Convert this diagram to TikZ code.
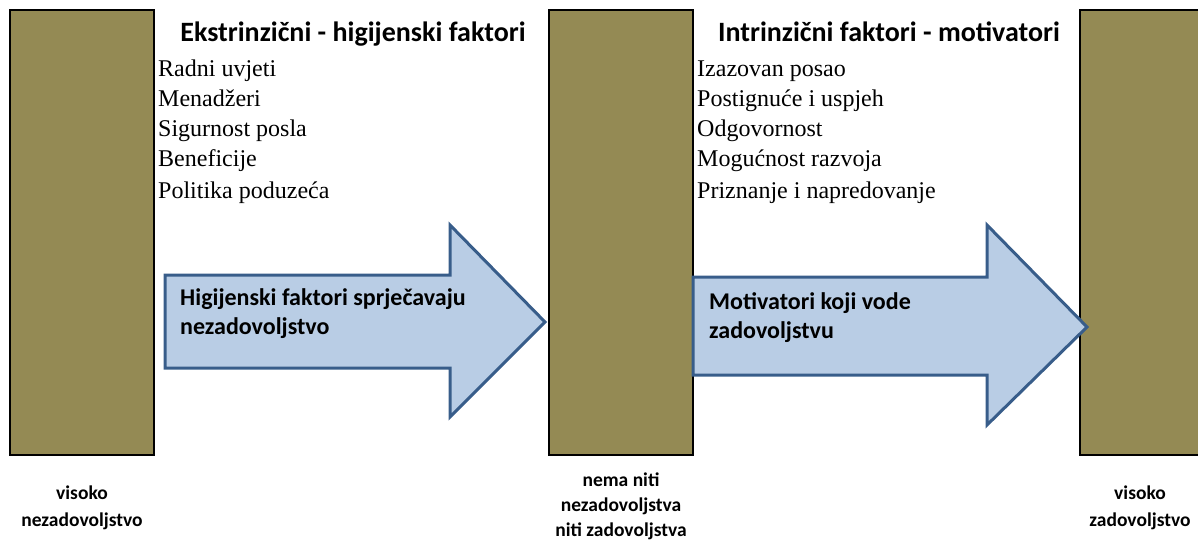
\documentclass[tikz,border=0pt]{standalone}
\usepackage{fontspec}
\setmainfont{Liberation Serif}
\newfontfamily\carlitofont{Carlito}
\definecolor{olivebar}{HTML}{948A54}
\definecolor{arrfill}{HTML}{B9CDE5}
\definecolor{arrline}{HTML}{385D8A}
\begin{document}
\begin{tikzpicture}[x=1pt,y=-1pt,
  bar/.style={draw=black,line width=2.5pt,fill=olivebar},
  bigarrow/.style={draw=arrline,line width=3pt,fill=arrfill,line join=miter},
  head/.style={font=\carlitofont\bfseries\fontsize{28}{30}\selectfont,anchor=base,inner sep=0pt},
  item/.style={font=\fontsize{24}{26}\selectfont,anchor=base west,inner sep=0pt},
  atext/.style={font=\carlitofont\bfseries\fontsize{24}{26}\selectfont,anchor=base west,inner sep=0pt},
  lab/.style={font=\carlitofont\bfseries\fontsize{19.5}{22}\selectfont,anchor=base,inner sep=0pt}]
\useasboundingbox (0,0) rectangle (1198,540);
% bars
\path[bar] (10,10) rectangle (154,455);
\path[bar] (549,10) rectangle (693,455);
\path[bar] (1080,10) rectangle (1210,455);
% arrows
\path[bigarrow] (165,275) -- (450,275) -- (450,225) -- (545,322) -- (450,417) -- (450,368) -- (165,368) -- cycle;
\path[bigarrow] (693,277) -- (987,277) -- (987,225) -- (1087,327) -- (987,425) -- (987,375) -- (693,375) -- cycle;
% headings
\node[head] (h1) at (353,42) {Ekstrinzični - higijenski faktori};
\node[head] (h2) at (889,42) {Intrinzični faktori - motivatori};
% lists
\node[item] (l1a) at (158,77) {Radni uvjeti};
\node[item] (l1b) at (158,107) {Menadžeri};
\node[item] (l1c) at (158,137) {Sigurnost posla};
\node[item] (l1d) at (158,167) {Beneficije};
\node[item] (l1e) at (158,198) {Politika poduzeća};
\node[item] (l2a) at (697,77) {Izazovan posao};
\node[item] (l2b) at (697,107) {Postignuće i uspjeh};
\node[item] (l2c) at (697,137) {Odgovornost};
\node[item] (l2d) at (697,167) {Mogućnost razvoja};
\node[item] (l2e) at (697,198) {Priznanje i napredovanje};
% arrow texts
\node[atext] (t1a) at (180,305) {Higijenski faktori sprječavaju};
\node[atext] (t1b) at (180,334) {nezadovoljstvo};
\node[atext] (t2a) at (709,309) {Motivatori koji vode};
\node[atext] (t2b) at (709,338) {zadovoljstvu};
% bottom labels
\node[lab] (v1a) at (82,499) {visoko};
\node[lab] (v1b) at (82,526) {nezadovoljstvo};
\node[lab] (v2a) at (621,486) {nema niti};
\node[lab] (v2b) at (621,511) {nezadovoljstva};
\node[lab] (v2c) at (621,536) {niti zadovoljstva};
\node[lab] (v3a) at (1140,499) {visoko};
\node[lab] (v3b) at (1140,526) {zadovoljstvo};
\end{tikzpicture}
\end{document}
